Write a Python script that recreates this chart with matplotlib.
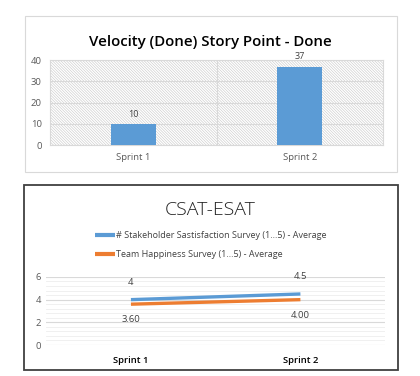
import matplotlib
matplotlib.use("Agg")
import matplotlib.pyplot as plt
from matplotlib.patches import Rectangle
from matplotlib.ticker import MultipleLocator

# velocity chart
sprints = ["Sprint 1", "Sprint 2"]
story_points = [10, 37]

# csat/esat chart
stakeholder_name = "# Stakeholder Sastisfaction Survey (1...5) - Average"
team_name = "Team Happiness Survey (1...5) - Average"
stakeholder_avg = [4, 4.5]
team_avg = [3.60, 4.00]
stakeholder_labels = ["4", "4.5"]
team_labels = ["3.60", "4.00"]

BLUE = "#5B9BD5"
ORANGE = "#ED7D31"
GRID = "#d9d9d9"
TICK = "#595959"

plt.rcParams["font.family"] = ["Open Sans", "DejaVu Sans"]
plt.rcParams["hatch.linewidth"] = 0.45

fig = plt.figure(figsize=(4.2, 3.76), dpi=100)

# chart frames (behind the axes)
fig.patches.append(Rectangle((25 / 420, 1 - 172 / 376), 372 / 420, 156 / 376,
                             transform=fig.transFigure, facecolor="white",
                             edgecolor="#d9d9d9", linewidth=0.8, zorder=-1))
fig.patches.append(Rectangle((24 / 420, 1 - 370 / 376), 374 / 420, 185 / 376,
                             transform=fig.transFigure, facecolor="white",
                             edgecolor="#404040", linewidth=1.3, zorder=-1))

# ---- top: bar chart ----
ax1 = fig.add_axes([0.119, 0.614, 0.793, 0.226])
ax1.add_patch(Rectangle((0, 0), 1, 1, transform=ax1.transAxes, facecolor="white",
                        edgecolor="#cccccc", hatch="\\" * 12, linewidth=0, zorder=0))
x = list(range(len(sprints)))
bars = ax1.bar(x, story_points, width=0.27, color=BLUE, zorder=3)
for b, v in zip(bars, story_points):
    ax1.text(b.get_x() + b.get_width() / 2, v + 2.5, str(v), ha="center", va="bottom",
             fontsize=6.5, color="#404040")
ax1.set_xlim(-0.5, 1.5)
ax1.set_ylim(0, 40)
ax1.set_yticks([0, 10, 20, 30, 40])
ax1.set_xticks(x)
ax1.set_xticklabels(sprints)
ax1.set_xticks([0.5], minor=True)
ax1.grid(axis="y", color=GRID, linewidth=0.8, zorder=1)
ax1.grid(axis="x", which="minor", color=GRID, linewidth=0.8, zorder=1)
for s in ax1.spines.values():
    s.set_color(GRID)
    s.set_linewidth(0.8)
ax1.tick_params(length=0, labelsize=6.8, labelcolor=TICK, pad=6)
ax1.tick_params(axis="x", which="minor", length=0)
fig.text(0.5, 1 - 42 / 376, "Velocity (Done) Story Point - Done", ha="center",
         va="center", fontsize=10.8, fontweight="semibold")

# ---- bottom: line chart ----
ax2 = fig.add_axes([0.110, 0.0824, 0.807, 0.181])
ax2.patch.set_alpha(0)
ax2.plot(x, stakeholder_avg, color=BLUE, linewidth=2.4, solid_capstyle="butt",
         label=stakeholder_name, zorder=3)
ax2.plot(x, team_avg, color=ORANGE, linewidth=2.4, solid_capstyle="butt",
         label=team_name, zorder=3)
for i in x:
    ax2.annotate(stakeholder_labels[i], (i, stakeholder_avg[i]), xytext=(0, 9),
                 textcoords="offset points", ha="center", va="bottom", fontsize=6.8,
                 color="#404040")
    ax2.annotate(team_labels[i], (i, team_avg[i]), xytext=(0, -8),
                 textcoords="offset points", ha="center", va="top", fontsize=6.8,
                 color="#404040")
ax2.set_xlim(-0.5, 1.5)
ax2.set_ylim(0, 6)
ax2.yaxis.set_major_locator(MultipleLocator(2))
ax2.yaxis.set_minor_locator(MultipleLocator(0.4))
ax2.set_xticks(x)
ax2.set_xticklabels(sprints, fontweight="semibold", color="black")
ax2.grid(axis="y", which="major", color=GRID, linewidth=0.8, zorder=1)
ax2.grid(axis="y", which="minor", color="#eeeeee", linewidth=0.6, zorder=1)
for s in ax2.spines.values():
    s.set_visible(False)
ax2.tick_params(which="both", length=0, labelsize=6.8, labelcolor=TICK)
ax2.tick_params(axis="x", labelsize=6.8, labelcolor="black", pad=8)

fig.text(0.5, 1 - 210 / 376, "CSAT-ESAT", ha="center", va="center", fontsize=14,
         fontweight="light", color="#222222")
leg = fig.legend(loc="upper left", bbox_to_anchor=(95 / 420, 1 - 231 / 376), frameon=False,
                 fontsize=6.5, handlelength=2.2, handletextpad=0.1, labelspacing=1.1,
                 borderaxespad=0, borderpad=0, labelcolor="#404040")
for line in leg.get_lines():
    line.set_linewidth(3)

fig.savefig("out.png", dpi=100)
